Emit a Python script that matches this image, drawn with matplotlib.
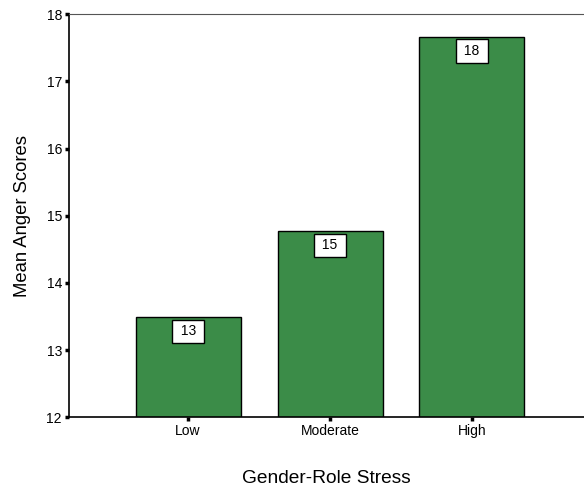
import matplotlib.pyplot as plt

plt.rcParams['font.family'] = ['Liberation Sans', 'DejaVu Sans']

categories = ["Low", "Moderate", "High"]
mean_anger = [13.49, 14.77, 17.66]
y_ticks = [12, 13, 14, 15, 16, 17, 18]

bar_color = "#3b8c48"

fig = plt.figure(figsize=(5.84, 4.88), dpi=100)
ax = fig.add_axes([0.118, 0.145, 0.882, 0.826])

x = range(len(categories))
bars = ax.bar(x, mean_anger, width=0.74, color=bar_color,
              edgecolor="black", linewidth=1.0, zorder=2)

# value boxes just inside the top of each bar
for rect, val in zip(bars, mean_anger):
    ax.annotate(f" {val:.0f} ",
                xy=(rect.get_x() + rect.get_width() / 2, rect.get_height()),
                xytext=(0, -5), textcoords="offset points",
                ha="center", va="top", fontsize=10,
                bbox=dict(boxstyle="square,pad=0.33", fc="white",
                          ec="black", lw=1.0))

ax.set_ylim(12, 18)
ax.set_xlim(-0.84, 2.79)
ax.set_yticks(y_ticks)
ax.set_xticks(list(x))
ax.set_xticklabels(categories)

ax.spines["right"].set_visible(False)
ax.spines["top"].set_color("#555555")
ax.spines["left"].set_linewidth(1.2)
ax.spines["bottom"].set_linewidth(1.2)

ax.tick_params(axis="both", direction="out", length=3, width=2.5,
               labelsize=10, pad=2)

ax.set_ylabel("Mean Anger Scores", fontsize=13.3, labelpad=11)
ax.set_xlabel("Gender-Role Stress", fontsize=13.8, labelpad=23)

fig.savefig("out.png", dpi=100)
plt.close(fig)
